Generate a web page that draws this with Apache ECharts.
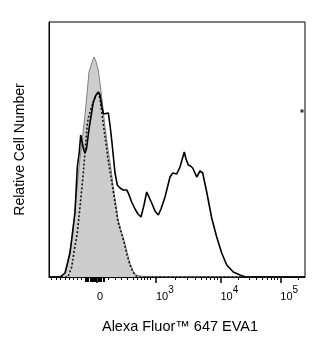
<!DOCTYPE html>
<html>
<head>
<meta charset="utf-8">
<script src="https://cdn.jsdelivr.net/npm/echarts@6/dist/echarts.min.js"></script>
<style>
  html, body { margin: 0; padding: 0; background: #fff; }
  #chart { width: 321px; height: 343px; }
</style>
</head>
<body>
<div id="chart"></div>
<script>
// histogram data, x in display channels (0-256), y = relative count
const isotypeData = [
  [0, 0], [11, 0], [14, 1], [16, 4], [18, 10], [21, 27], [24, 44], [27, 77], [30, 110],
  [32, 127], [34, 144], [36, 162], [37.5, 178], [39, 194], [40, 205], [41.5, 210],
  [42.7, 214], [44, 216], [45, 220], [46.5, 217], [47.7, 216], [49.3, 207], [51, 194],
  [52.7, 180], [54, 168], [56, 150], [59, 128], [62, 108], [64, 92], [67, 72], [69, 58],
  [72, 47], [75, 37], [78, 25], [81, 14], [84, 6], [87, 2], [91, 1], [96, 0.5],
  [101, 0.3], [256, 0]
];
const controlData = [
  [0, 0], [19, 0], [22.7, 10], [25, 25], [28.3, 44], [31.5, 75], [34.3, 104], [37, 137],
  [38.3, 153], [40, 162], [42.7, 170], [46, 180], [49.3, 185], [51, 178], [54.3, 153],
  [57, 133], [59, 118], [62, 100], [64, 87], [67, 68], [69, 55], [72, 45], [75, 35],
  [78, 22], [81, 12], [84, 5], [87, 1], [91, 0], [256, 0]
];
const stainedData = [
  [0, 0], [11, 0], [13, 1], [16, 4], [21, 24], [26, 65], [28.3, 110], [30.3, 125],
  [31.7, 142], [33, 140], [34.5, 128], [36, 124], [37.5, 128], [40.3, 150], [44.3, 175],
  [47, 182], [49.3, 185], [51, 182], [53, 170], [54.5, 163], [56, 162], [59.3, 164],
  [61, 152], [62.7, 137], [66, 104], [68.3, 92], [71, 89], [74.3, 87], [77.7, 87],
  [79.3, 84], [81, 82], [82.7, 75], [86, 68], [89, 63], [92, 60], [95, 72], [97.7, 85],
  [100, 80], [102.7, 74], [106, 66], [109.3, 62], [112, 68], [116, 80], [121, 100],
  [123.7, 104], [127.7, 103], [131, 110], [135.3, 125], [137, 118], [139.3, 112],
  [141.5, 111], [143.7, 109], [147.7, 100], [151, 106], [153.7, 104], [157.7, 85],
  [162.7, 59], [167.7, 40], [172.7, 24], [177.7, 12], [184.3, 5], [191, 2], [196, 0.3],
  [256, 0]
];
const offScale = [[253, 166]];

// tick positions (display channels) of the biexponential axis
const majorTicks = [48, 107, 171.5, 231.3];
const majorLabels = ['0', '10|3', '10|4', '10|5'];
const minorTicks = [
  2.7, 7, 11.3, 16, 20, 24.3, 28.7, 32.7,
  59.3, 66, 72.7, 78.7, 84.3, 88.3, 92, 95.3, 98.3, 101,
  126.4, 137.8, 145.8, 152.1, 157.2, 161.5, 165.2, 168.5,
  189.5, 200, 207.5, 213.3, 218, 222, 225.5, 228.4,
  249.3
];
const zeroBlockTicks = [36, 37, 38, 39, 41, 42, 43, 44, 45, 46, 47, 49, 50, 51, 52, 54, 55];

const font = '"Liberation Sans", Arial, sans-serif';

const chart = echarts.init(document.getElementById('chart'), null, { renderer: 'canvas' });

const baseAxis = {
  type: 'value',
  position: 'bottom',
  min: 0,
  max: 256,
  splitLine: { show: false },
  axisLine: { show: false },
  axisLabel: { show: false }
};

const option = {
  animation: false,
  backgroundColor: '#fff',
  grid: {
    left: 49, right: 16, top: 22, bottom: 66,
    containLabel: false,
    outerBoundsMode: 'none',
    show: true,
    borderColor: '#000',
    borderWidth: 1
  },
  xAxis: [
    Object.assign({}, baseAxis, {
      axisLine: { show: true, onZero: false, lineStyle: { color: '#000', width: 1 } },
      axisTick: { show: true, length: 3, customValues: minorTicks, lineStyle: { color: '#000', width: 1 } }
    }),
    Object.assign({}, baseAxis, {
      axisTick: { show: true, length: 6, customValues: majorTicks, lineStyle: { color: '#000', width: 1.5 } },
      axisLabel: {
        show: true,
        customValues: majorTicks,
        margin: 8,
        align: 'left',
        fontFamily: font,
        color: '#000',
        formatter: function (v) {
          const i = majorTicks.indexOf(v);
          const parts = majorLabels[i].split('|');
          if (parts.length === 1) return '{b|' + parts[0] + '}';
          return '{b|' + parts[0] + '}{s|' + parts[1] + '}';
        },
        rich: {
          b: { fontSize: 11, lineHeight: 17, verticalAlign: 'bottom', fontFamily: font, color: '#000' },
          s: { fontSize: 10, lineHeight: 17, verticalAlign: 'top', fontFamily: font, color: '#000' }
        }
      },
      name: 'Alexa Fluor™ 647 EVA1',
      nameLocation: 'middle',
      nameGap: 42,
      nameMoveOverlap: false,
      nameTextStyle: { fontSize: 14.5, fontFamily: font, color: '#000', padding: [0, 0, 0, 6] }
    }),
    Object.assign({}, baseAxis, {
      axisTick: { show: true, length: 5, customValues: zeroBlockTicks, lineStyle: { color: '#000', width: 1 } }
    })
  ],
  yAxis: {
    type: 'value',
    min: 0,
    max: 255,
    splitLine: { show: false },
    axisLine: { show: true, lineStyle: { color: '#000' } },
    axisTick: { show: false },
    axisLabel: { show: false },
    name: 'Relative Cell Number',
    nameLocation: 'middle',
    nameGap: 22,
    nameMoveOverlap: false,
    nameTextStyle: { fontSize: 14, fontFamily: font, color: '#000' }
  },
  series: [
    {
      name: 'isotype',
      type: 'line',
      data: isotypeData,
      symbol: 'none',
      lineStyle: { color: '#808080', width: 1 },
      areaStyle: { color: '#cdcdcd', opacity: 1 },
      z: 1
    },
    {
      name: 'control',
      type: 'line',
      data: controlData,
      symbol: 'none',
      lineStyle: { color: '#111', width: 1.6, type: [2, 2] },
      z: 2
    },
    {
      name: 'stained',
      type: 'line',
      data: stainedData,
      symbol: 'none',
      lineStyle: { color: '#000', width: 1.6 },
      z: 3
    },
    {
      name: 'offscale',
      type: 'scatter',
      data: offScale,
      symbol: 'rect',
      symbolSize: 3,
      itemStyle: { color: '#000' },
      z: 4
    }
  ]
};

chart.setOption(option);
</script>
</body>
</html>
